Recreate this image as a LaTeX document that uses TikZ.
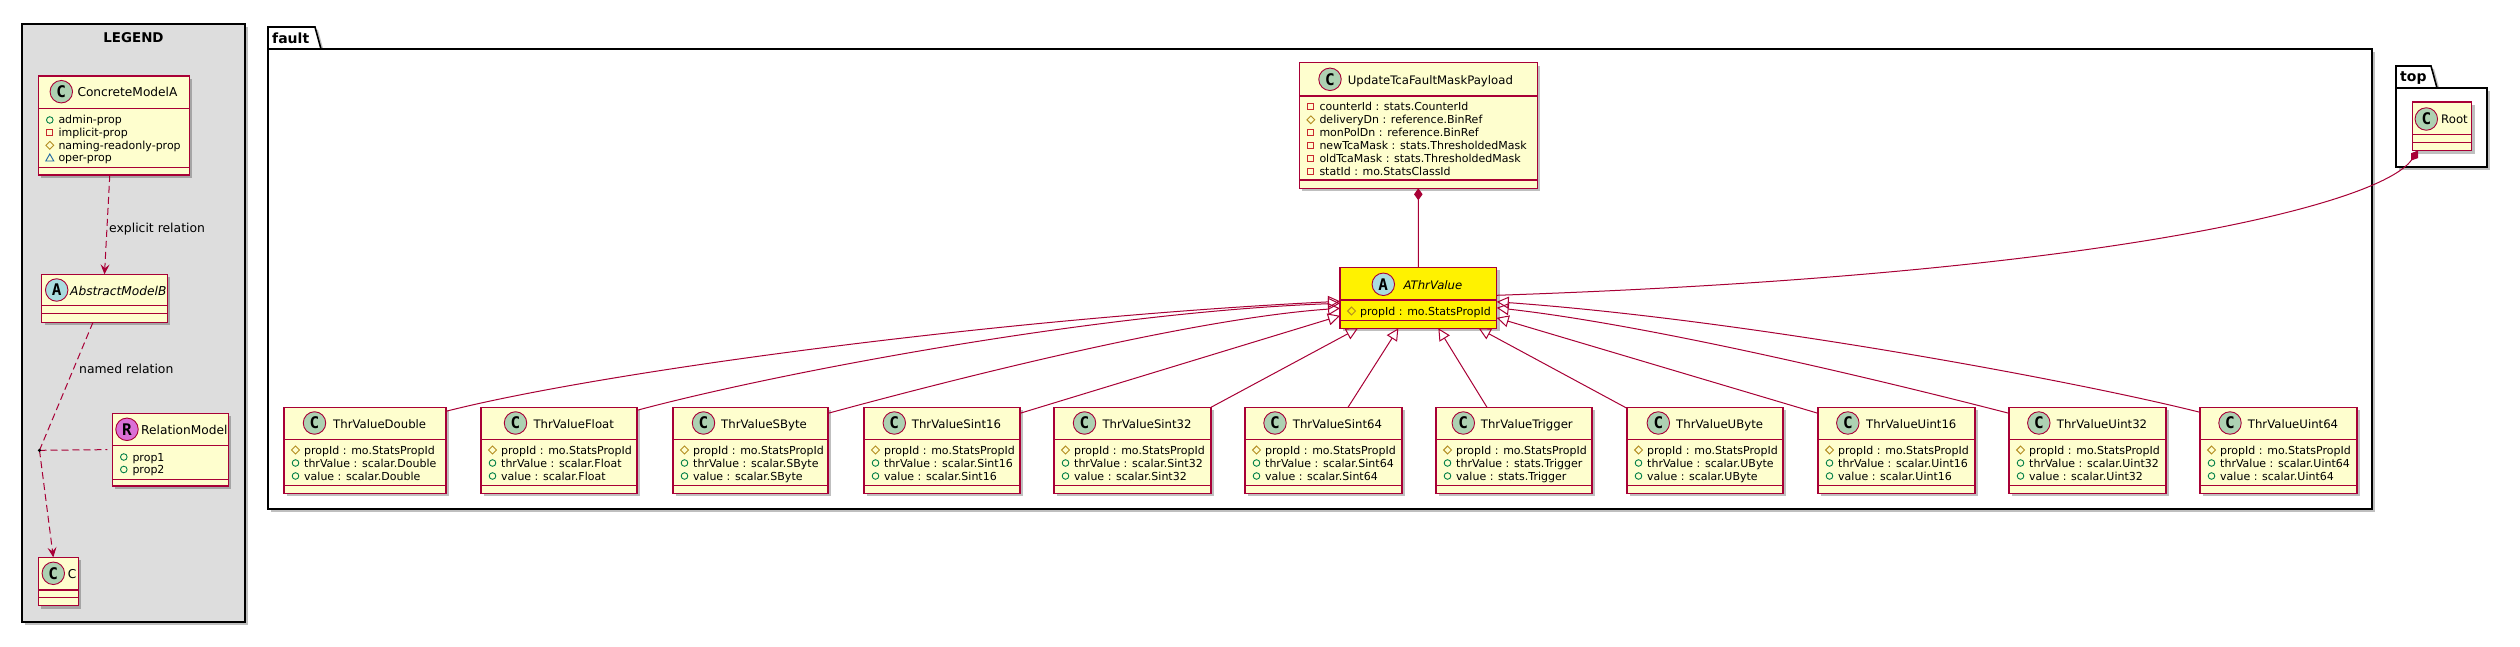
\documentclass[tikz,border=0pt]{standalone}
\usepackage{fontspec}
\setmainfont{DejaVu Sans}
\newfontfamily\iconfont{DejaVu Sans Mono}
\usetikzlibrary{shadows,arrows.meta,calc}
\definecolor{umlred}{HTML}{A80036}
\definecolor{umlfill}{HTML}{FEFECE}
\definecolor{iconC}{HTML}{ADD1B2}
\definecolor{iconA}{HTML}{A9DCDF}
\definecolor{iconR}{HTML}{DA70D6}
\definecolor{pubc}{HTML}{038048}
\definecolor{privc}{HTML}{C82930}
\definecolor{protc}{HTML}{B38D22}
\definecolor{pkgc}{HTML}{1963A0}
\definecolor{legfill}{HTML}{DDDDDD}
\tikzset{
  shd/.style={drop shadow={shadow xshift=3pt, shadow yshift=-3pt, opacity=0.25, fill=black}},
  classbox/.style={rectangle, draw=umlred, line width=1.3pt, fill=umlfill, inner sep=0pt, outer sep=0pt, shd},
  classline/.style={draw=umlred, line width=1.3pt},
  icon/.style={circle, draw=umlred, line width=0.9pt, minimum size=22.5pt, inner sep=0pt, font=\iconfont\bfseries\fontsize{16}{16}\selectfont},
  cname/.style={anchor=base west, inner sep=0pt, font=\fontsize{11.7}{14}\selectfont},
  attrtext/.style={anchor=base west, inner sep=0pt, font=\fontsize{11}{13}\selectfont},
  pkgtab/.style={draw=black, line width=1.6pt, fill=white, shd},
  pkgbox/.style={rectangle, draw=black, line width=1.6pt, fill=white, inner sep=0pt, outer sep=0pt, shd},
  pkglabel/.style={anchor=base west, inner sep=0pt, font=\bfseries\fontsize{14}{16}\selectfont},
  edge/.style={draw=umlred, line width=1pt},
  ext/.style={edge, -{Triangle[open, length=12pt, width=12pt]}},
  comp/.style={edge, {Diamond[length=12pt, width=8.5pt, fill=umlred]}-},
  dep/.style={edge, dash pattern=on 7pt off 4pt, -{Stealth[length=10pt, width=9pt, inset=4pt]}},
  dashline/.style={edge, dash pattern=on 7pt off 4pt},
  elabel/.style={anchor=base west, inner sep=0pt, font=\fontsize{12.4}{14}\selectfont},
}
\newcommand\vpub[2]{\draw[pubc, line width=0.9pt] (#1,#2) circle (3.3);}
\newcommand\vpriv[2]{\draw[privc, line width=0.9pt] (#1-2.9,#2-2.9) rectangle (#1+2.9,#2+2.9);}
\newcommand\vprot[2]{\draw[protc, line width=0.9pt] (#1-3.9,#2) -- (#1,#2-3.9) -- (#1+3.9,#2) -- (#1,#2+3.9) -- cycle;}
\newcommand\vpkg[2]{\draw[pkgc, line width=0.9pt] (#1-4,#2+3) -- (#1+4,#2+3) -- (#1,#2-4) -- cycle;}
% attribute row: vis, box left, row y, text, name
\newcommand\attr[5]{\csname v#1\endcsname{#2+11.5}{#3}\node[attrtext] (#5) at (#2+20,#3+4) {#4};}
% box: id, left, top, right, bottom, divider1, divider2, fill
\newcommand\umlbox[8]{%
  \node[classbox, fill=#8, anchor=north west, minimum width={#4-#2}, minimum height={#5-#3}] (#1) at (#2,#3) {};
  \draw[classline] (#2,#6) -- (#4,#6) (#2,#7) -- (#4,#7);}
% header: id, letter, icon fill, circle x, circle y, name x, name
\newcommand\hdr[7]{%
  \node[icon, fill=#3] (#1-i) at (#4,#5) {#2};
  \node[cname] (#1-n) at (#6,#5+5) {#7};}
% threshold class: id, left, right, circle x, name x, name, type
\newcommand\thrbox[7]{%
  \umlbox{#1}{#2}{407.3}{#3}{493.3}{439.3}{485.3}{umlfill}
  \hdr{#1}{C}{iconC}{#4}{423}{#5}{#6}
  \attr{prot}{#2}{450}{propId : mo.StatsPropId}{#1-a}
  \attr{pub}{#2}{463}{thrValue : #7}{#1-b}
  \attr{pub}{#2}{476}{value : #7}{#1-c}}
\begin{document}
\begin{tikzpicture}[x=1pt, y=-1pt]
\path[fill=white, use as bounding box] (0,0) rectangle (2520,647);

% ---------- LEGEND ----------
\node[pkgbox, fill=legfill, anchor=north west, minimum width=223pt, minimum height=598pt] (legend) at (22,24) {};
\node[anchor=base, inner sep=0pt, font=\bfseries\fontsize{13.4}{16}\selectfont] (legend-t) at (133.5,42.7) {LEGEND};

\begin{scope}[cname/.append style={font=\fontsize{12.2}{14}\selectfont}]
\umlbox{cma}{38.3}{76}{189.3}{175}{108.3}{167.7}{umlfill}
\hdr{cma}{C}{iconC}{61.3}{91.7}{77.3}{ConcreteModelA}
\attr{pub}{38.3}{120}{admin-prop}{cma-a}
\attr{priv}{38.3}{132.7}{implicit-prop}{cma-b}
\attr{prot}{38.3}{145.3}{naming-readonly-prop}{cma-c}
\attr{pkg}{38.3}{158}{oper-prop}{cma-d}

\umlbox{amb}{41.7}{274.3}{167.3}{322.3}{305.7}{313.3}{umlfill}
\hdr{amb}{A}{iconA}{56.7}{290}{70}{\itshape AbstractModelB}

\umlbox{rm}{112.3}{413.3}{228.3}{486}{445.7}{479.3}{umlfill}
\hdr{rm}{R}{iconR}{127}{429.3}{141}{RelationModel}
\attr{pub}{112.3}{457}{prop1}{rm-a}
\attr{pub}{112.3}{469.5}{prop2}{rm-b}

\umlbox{cbox}{38.3}{557.3}{78.3}{605.7}{590}{597.3}{umlfill}
\hdr{cbox}{C}{iconC}{53.3}{573.3}{67.7}{C}
\end{scope}

\coordinate (jn) at (39.5,450.3);
\draw[dep] ($(cma.south)+(-4,0)$) -- (amb.north);
\draw[dashline] ($(amb.south)+(-11.5,0)$) -- (jn);
\draw[dashline] (jn) -- ($(rm.west)+(-5,0)$);
\draw[dep] (jn) -- ($(cbox.north)+(-5,0)$);
\fill (jn) circle (1.8);
\node[elabel] (lbl-exp) at (109,233) {explicit relation};
\node[elabel] (lbl-named) at (79,373.3) {named relation};

% ---------- packages ----------
\path[pkgtab] (268,49) -- (268,27) -- (315,27) -- (321,49) -- cycle;
\node[pkgbox, anchor=north west, minimum width=2104pt, minimum height=460pt] (fault) at (268,49) {};
\node[pkglabel] (fault-t) at (272,44) {fault};

\path[pkgtab] (2396,88) -- (2396,66) -- (2431,66) -- (2437,88) -- cycle;
\node[pkgbox, anchor=north west, minimum width=91pt, minimum height=79pt] (toppkg) at (2396,88) {};
\node[pkglabel] (top-t) at (2400,82) {top};

% ---------- classes ----------
\umlbox{root}{2412.3}{102}{2471.7}{150.7}{134.3}{142.3}{umlfill}
\hdr{root}{C}{iconC}{2426.3}{119}{2441}{Root}

\umlbox{upd}{1299.3}{62.7}{1537.3}{188.3}{96}{180}{umlfill}
\hdr{upd}{C}{iconC}{1330}{79.3}{1347.7}{UpdateTcaFaultMaskPayload}
\attr{priv}{1299.3}{106.8}{counterId : stats.CounterId}{upd-a}
\attr{prot}{1299.3}{119.8}{deliveryDn : reference.BinRef}{upd-b}
\attr{priv}{1299.3}{132.7}{monPolDn : reference.BinRef}{upd-c}
\attr{priv}{1299.3}{145.7}{newTcaMask : stats.ThresholdedMask}{upd-d}
\attr{priv}{1299.3}{158.6}{oldTcaMask : stats.ThresholdedMask}{upd-e}
\attr{priv}{1299.3}{171.6}{statId : mo.StatsClassId}{upd-f}

\umlbox{athr}{1340}{267.3}{1496.7}{328.3}{300}{320.7}{yellow}
\hdr{athr}{A}{iconA}{1383.3}{284.3}{1403.3}{\itshape AThrValue}
\attr{prot}{1340}{311}{propId : mo.StatsPropId}{athr-a}

\thrbox{dbl}{284}{446}{314.5}{333}{ThrValueDouble}{scalar.Double}
\thrbox{flt}{481}{637}{515.5}{533.3}{ThrValueFloat}{scalar.Float}
\thrbox{sby}{673}{828}{703.5}{721}{ThrValueSByte}{scalar.SByte}
\thrbox{si16}{864}{1020}{894.3}{911.7}{ThrValueSint16}{scalar.Sint16}
\thrbox{si32}{1054}{1211}{1084.5}{1102.3}{ThrValueSint32}{scalar.Sint32}
\thrbox{si64}{1245}{1402}{1275}{1292.7}{ThrValueSint64}{scalar.Sint64}
\thrbox{trg}{1436}{1592}{1463.3}{1480.7}{ThrValueTrigger}{stats.Trigger}
\thrbox{uby}{1627}{1783}{1658.3}{1676}{ThrValueUByte}{scalar.UByte}
\thrbox{ui16}{1818}{1975}{1847.8}{1866}{ThrValueUint16}{scalar.Uint16}
\thrbox{ui32}{2009}{2166}{2038.8}{2056.7}{ThrValueUint32}{scalar.Uint32}
\thrbox{ui64}{2200}{2357}{2230}{2247.7}{ThrValueUint64}{scalar.Uint64}

% ---------- relations ----------
\draw[comp] (upd.south) -- (athr.north);
\draw[comp] ($(root.south)+(-24,0)$) .. controls (2380,205) and (2100,275) .. ($(athr.east)+(0,-2.5)$);

\draw[ext] ($(dbl.north east)+(0,4)$) .. controls (600,372) and (1000,318) .. ($(athr.west)+(0,3.5)$);
\draw[ext] ($(flt.north east)+(0,3)$) .. controls (780,372) and (1100,312) .. ($(athr.west)+(0,5.5)$);
\draw[ext] ($(sby.north east)+(0,6)$) .. controls (980,372) and (1200,318) .. ($(athr.west)+(0,10.5)$);
\draw[ext] ($(si16.north east)+(0,6)$) -- ($(athr.west)+(0,18)$);
\draw[ext] (si32.north east) -- ($(athr.south west)+(18,0)$);
\draw[ext] ($(si64.north)+(24.5,0)$) -- ($(athr.south)+(-20,0)$);
\draw[ext] ($(trg.north)+(-27,0)$) -- ($(athr.south)+(20,0)$);
\draw[ext] ($(uby.north west)+(0,1)$) -- ($(athr.south east)+(-18,0)$);
\draw[ext] ($(ui16.north west)+(0,6)$) -- ($(athr.east)+(0,20)$);
\draw[ext] ($(ui32.north west)+(0,6)$) .. controls (1880,380) and (1650,325) .. ($(athr.east)+(0,10)$);
\draw[ext] ($(ui64.north west)+(0,5)$) .. controls (2080,382) and (1750,320) .. ($(athr.east)+(0,4)$);
\end{tikzpicture}
\end{document}
